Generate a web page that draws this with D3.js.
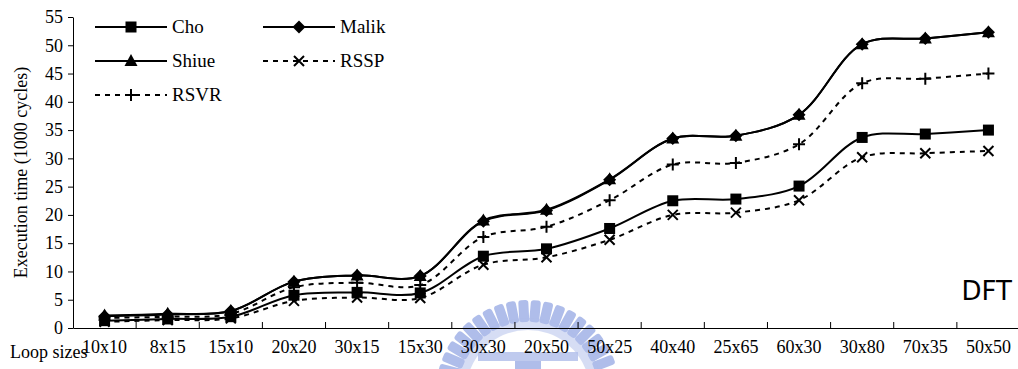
<!DOCTYPE html>
<html>
<head>
<meta charset="utf-8">
<script src="https://cdn.jsdelivr.net/npm/d3@7/dist/d3.min.js"></script>
<style>
  body { margin: 0; background: #fff; }
  svg { display: block; }
</style>
</head>
<body>
<svg id="chart" width="1018" height="369"></svg>
<script>
// chart data
const categories = ["10x10", "8x15", "15x10", "20x20", "30x15", "15x30", "30x30", "20x50",
  "50x25", "40x40", "25x65", "60x30", "30x80", "70x35", "50x50"];
const cho   = [1.3, 1.6, 2.0, 5.8, 6.3, 6.2, 12.7, 14.0, 17.6, 22.5, 22.8, 25.1, 33.7, 34.3, 35.0];
const malik = [2.1, 2.4, 3.0, 8.2, 9.3, 9.2, 18.9, 20.8, 26.2, 33.5, 34.0, 37.7, 50.2, 51.2, 52.3];
const shiue = [2.2, 2.5, 3.0, 8.2, 9.3, 9.2, 19.0, 20.9, 26.3, 33.5, 34.0, 37.7, 50.2, 51.2, 52.3];
const rssp  = [1.1, 1.4, 1.7, 4.8, 5.4, 5.3, 11.2, 12.5, 15.6, 20.0, 20.4, 22.6, 30.2, 30.9, 31.3];
const rsvr  = [1.8, 2.0, 2.5, 7.2, 8.0, 7.6, 16.1, 17.9, 22.6, 28.9, 29.2, 32.5, 43.3, 44.1, 45.0];
const yTicks = [0, 5, 10, 15, 20, 25, 30, 35, 40, 45, 50, 55];

const series = [
  { name: "Cho", values: cho, dash: null, marker: "square" },
  { name: "Malik", values: malik, dash: null, marker: "diamond" },
  { name: "Shiue", values: shiue, dash: null, marker: "triangle" },
  { name: "RSSP", values: rssp, dash: "5,5", marker: "x" },
  { name: "RSVR", values: rsvr, dash: "5,5", marker: "plus" }
];

const svg = d3.select("#chart");
const plotLeft = 73, plotRight = 1020, plotTop = 17, plotBottom = 328;
const serif = "'Liberation Serif', 'Times New Roman', serif";

// faint watermark behind the plot
const wm = svg.append("g").attr("fill", "#8ea2e2").attr("opacity", 0.7);
const cx = 528, cy = 392;
d3.range(-165, -14, 8).forEach(a => {
  wm.append("rect")
    .attr("x", -5).attr("y", -92).attr("width", 10).attr("height", 22)
    .attr("rx", 3)
    .attr("transform", `translate(${cx},${cy}) rotate(${a + 90})`);
});
wm.append("path")
  .attr("d", d3.arc()({ innerRadius: 62, outerRadius: 74, startAngle: -Math.PI * 0.42, endAngle: Math.PI * 0.42 }))
  .attr("transform", `translate(${cx},${cy})`)
  .attr("opacity", 0.5);
wm.append("rect").attr("x", 478).attr("y", 352).attr("width", 100).attr("height", 9).attr("opacity", 0.8);
wm.append("rect").attr("x", 515).attr("y", 361).attr("width", 26).attr("height", 8);

const x = d3.scaleBand().domain(categories).range([plotLeft, plotRight]);
const y = d3.scaleLinear().domain([0, 55]).range([plotBottom, plotTop]);
const px = c => x(c) + x.bandwidth() / 2;

// y axis
const yAxis = svg.append("g")
  .attr("transform", `translate(${plotLeft},0)`)
  .call(d3.axisLeft(y).tickValues(yTicks).tickSize(5).tickSizeOuter(0).tickPadding(5));
yAxis.selectAll("text").attr("font-family", serif).attr("font-size", 18).attr("fill", "#000");
yAxis.selectAll("line,path").attr("stroke", "#000");

// x axis: labels plus tick marks at category edges, pointing up
const xAxis = svg.append("g")
  .attr("transform", `translate(0,${plotBottom})`)
  .call(d3.axisBottom(x).tickSize(0).tickSizeOuter(0).tickPadding(12));
xAxis.selectAll("text").attr("font-family", serif).attr("font-size", 18).attr("fill", "#000");
xAxis.select(".domain").attr("stroke", "#000");
xAxis.selectAll(".edge")
  .data(categories.slice(1))
  .join("line")
  .attr("x1", d => x(d)).attr("x2", d => x(d))
  .attr("y1", 0).attr("y2", -6)
  .attr("stroke", "#000");

svg.append("text")
  .attr("x", 10).attr("y", plotBottom + 30)
  .attr("font-family", serif).attr("font-size", 18)
  .text("Loop sizes");

svg.append("text")
  .attr("transform", `translate(27,${(plotTop + plotBottom) / 2}) rotate(-90)`)
  .attr("text-anchor", "middle")
  .attr("font-family", serif).attr("font-size", 18)
  .text("Execution time (1000 cycles)");

function drawMarker(g, type, cxp, cyp) {
  if (type === "square") {
    g.append("rect").attr("x", cxp - 5.5).attr("y", cyp - 5.5).attr("width", 11).attr("height", 11).attr("fill", "#000");
  } else if (type === "diamond") {
    g.append("path").attr("d", `M${cxp},${cyp - 6.5}L${cxp + 6.5},${cyp}L${cxp},${cyp + 6.5}L${cxp - 6.5},${cyp}Z`).attr("fill", "#000");
  } else if (type === "triangle") {
    g.append("path").attr("d", `M${cxp},${cyp - 7}L${cxp + 6.5},${cyp + 5}L${cxp - 6.5},${cyp + 5}Z`).attr("fill", "#000");
  } else if (type === "x") {
    g.append("path").attr("d", `M${cxp - 5},${cyp - 5}L${cxp + 5},${cyp + 5}M${cxp - 5},${cyp + 5}L${cxp + 5},${cyp - 5}`)
      .attr("stroke", "#000").attr("stroke-width", 2);
  } else if (type === "plus") {
    g.append("path").attr("d", `M${cxp - 6},${cyp}L${cxp + 6},${cyp}M${cxp},${cyp - 6}L${cxp},${cyp + 6}`)
      .attr("stroke", "#000").attr("stroke-width", 2);
  }
}

const line = d3.line()
  .x((d, i) => px(categories[i]))
  .y(d => y(d))
  .curve(d3.curveCatmullRom.alpha(0.5));

const plot = svg.append("g");
series.forEach(s => {
  plot.append("path")
    .attr("d", line(s.values))
    .attr("fill", "none")
    .attr("stroke", "#000")
    .attr("stroke-width", 2)
    .attr("stroke-dasharray", s.dash);
  const mg = plot.append("g");
  s.values.forEach((v, i) => drawMarker(mg, s.marker, px(categories[i]), y(v)));
});

// legend
const legendPos = [[95, 27], [263, 27], [95, 61], [263, 61], [95, 95]];
series.forEach((s, i) => {
  const [lx, ly] = legendPos[i];
  const g = svg.append("g");
  g.append("line")
    .attr("x1", lx).attr("x2", lx + 72).attr("y1", ly).attr("y2", ly)
    .attr("stroke", "#000").attr("stroke-width", 2)
    .attr("stroke-dasharray", s.dash);
  drawMarker(g, s.marker, lx + 36, ly);
  g.append("text")
    .attr("x", lx + 77).attr("y", ly + 6)
    .attr("font-family", serif).attr("font-size", 19)
    .text(s.name);
});

svg.append("text")
  .attr("x", 1012).attr("y", 300)
  .attr("text-anchor", "end")
  .attr("font-family", "'DejaVu Sans', sans-serif").attr("font-size", 26)
  .text("DFT");
</script>
</body>
</html>
